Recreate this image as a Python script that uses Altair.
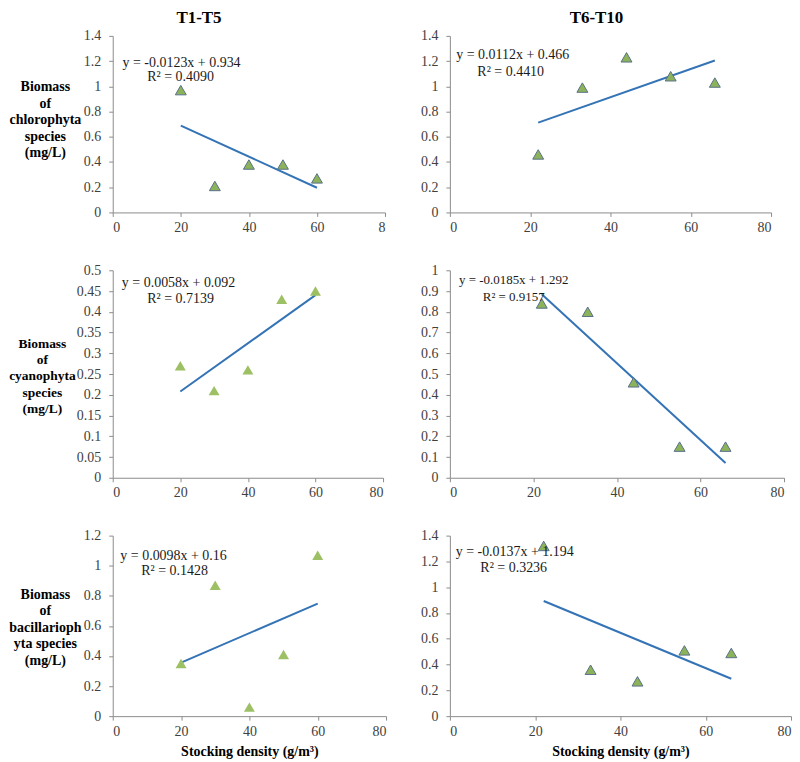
import altair as alt
import pandas as pd

# ---------------- data ----------------
x_t1 = [20, 30, 40, 50, 60]
x_t6 = [22, 33, 44, 55, 66]

chl_t1 = [0.97, 0.21, 0.38, 0.38, 0.27]
chl_t6 = [0.46, 0.99, 1.23, 1.08, 1.03]
cya_t1 = [0.27, 0.21, 0.26, 0.43, 0.45]
cya_t6 = [0.84, 0.80, 0.46, 0.15, 0.15]
bac_t1 = [0.35, 0.87, 0.06, 0.41, 1.07]
bac_t6 = [1.32, 0.36, 0.27, 0.51, 0.49]

slopes = {"chl_t1": -0.0123, "chl_t6": 0.0112, "cya_t1": 0.0058,
          "cya_t6": -0.0185, "bac_t1": 0.0098, "bac_t6": -0.0137}
intercepts = {"chl_t1": 0.934, "chl_t6": 0.466, "cya_t1": 0.092,
              "cya_t6": 1.292, "bac_t1": 0.16, "bac_t6": 1.194}
eq_lines = {
    "chl_t1": ["y = -0.0123x + 0.934", "R² = 0.4090"],
    "chl_t6": ["y = 0.0112x + 0.466", "R² = 0.4410"],
    "cya_t1": ["y = 0.0058x + 0.092", "R² = 0.7139"],
    "cya_t6": ["y = -0.0185x + 1.292", "R² = 0.9157"],
    "bac_t1": ["y = 0.0098x + 0.16", "R² = 0.1428"],
    "bac_t6": ["y = -0.0137x + 1.194", "R² = 0.3236"],
}
x_ticks = [0, 20, 40, 60, 80]
col_titles = ["T1-T5", "T6-T10"]
row_titles = [
    ["Biomass", "of", "chlorophyta", "species", "(mg/L)"],
    ["Biomass", "of", "cyanophyta", "species", "(mg/L)"],
    ["Biomass", "of", "bacillarioph", "yta  species", "(mg/L)"],
]
x_title = "Stocking density (g/m³)"

SERIF = "Liberation Serif"
LINE_BLUE = "#3473B5"
AXIS_GRAY = "#8C8C8C"
LABEL_COLOR = "#404040"


def ticks(top, step):
    n = int(round(top / step))
    return [round(i * step, 2) for i in range(n + 1)]


def axis_common():
    return dict(labelFont=SERIF, labelFontSize=14, labelColor=LABEL_COLOR,
                labelOverlap=False, domainColor=AXIS_GRAY, tickColor=AXIS_GRAY,
                tickSize=4, grid=False,
                titleFont=SERIF, titleFontSize=14, titleFontWeight="bold",
                titleColor="#000000")


def panel(key, xs, ys, ytop, ystep, yfmt, w, h, eqpos, eqsize=14,
          ytitle=None, ytitle_x=-68, ytitle_y=0, ytitle_size=14,
          xtitle=None, title=None, title_dx=0,
          outline=True, xlabel_expr=None):
    df = pd.DataFrame({"x": xs, "y": ys})
    xmin, xmax = min(xs), max(xs)
    tl = pd.DataFrame({"x": [xmin, xmax],
                       "y": [slopes[key] * xmin + intercepts[key],
                             slopes[key] * xmax + intercepts[key]]})

    xaxis_kw = axis_common()
    xaxis_kw.update(values=x_ticks, format="d", labelPadding=4)
    if xlabel_expr:
        xaxis_kw["labelExpr"] = xlabel_expr
    if xtitle:
        xaxis_kw["title"] = xtitle
        xaxis_kw["titlePadding"] = 6
    else:
        xaxis_kw["title"] = None

    yaxis_kw = axis_common()
    yaxis_kw.update(values=ticks(ytop, ystep), format=yfmt, labelPadding=8)
    if ytitle:
        yaxis_kw.update(title=ytitle, titleAngle=0, titleAlign="center",
                        titleBaseline="middle", titleX=ytitle_x, titleY=ytitle_y,
                        titleLineHeight=16.5, titleFontSize=ytitle_size)
    else:
        yaxis_kw["title"] = None

    def xenc():
        return alt.X("x:Q", scale=alt.Scale(domain=[0, 80], nice=False),
                     axis=alt.Axis(**xaxis_kw))

    def yenc():
        return alt.Y("y:Q", scale=alt.Scale(domain=[0, ytop], nice=False),
                     axis=alt.Axis(**yaxis_kw))

    line = alt.Chart(tl).mark_line(color=LINE_BLUE, strokeWidth=2).encode(x=xenc(), y=yenc())
    if outline:
        pts = alt.Chart(df).mark_point(shape="triangle-up", filled=True, size=120,
                                       fill="#8DB35A", stroke="#58708A", strokeWidth=1,
                                       opacity=1).encode(x=xenc(), y=yenc())
    else:
        pts = alt.Chart(df).mark_point(shape="triangle-up", filled=True, size=120,
                                       fill="#9CC063", opacity=1).encode(x=xenc(), y=yenc())

    layers = [line, pts]
    l1, l2 = eq_lines[key]
    (x1, y1), (x2, y2) = eqpos
    for txt, px, py in [(l1, x1, y1), (l2, x2, y2)]:
        layers.append(
            alt.Chart(pd.DataFrame({"t": [txt]})).mark_text(
                font=SERIF, fontSize=eqsize, align="center", baseline="middle", color="#1a1a1a"
            ).encode(x=alt.value(px), y=alt.value(py), text="t:N")
        )
    ch = alt.layer(*layers).properties(width=w, height=h)
    if title:
        ch = ch.properties(title=alt.TitleParams(title, font=SERIF, fontSize=17, fontWeight="bold",
                                                 color="#000000", dx=title_dx, offset=2))
    return ch


tl_p = panel("chl_t1", x_t1, chl_t1, 1.4, 0.2, ".1~f", 273, 177,
             [(69, 27), (68, 41)], ytitle=row_titles[0], ytitle_x=-68, ytitle_y=51,
             title=col_titles[0], title_dx=-50,
             xlabel_expr="datum.value == 80 ? '8' : datum.label")
tr_p = panel("chl_t6", x_t6, chl_t6, 1.4, 0.2, ".1~f", 322, 177,
             [(63, 19), (61, 36)], title=col_titles[1], title_dx=-14)

ml_p = panel("cya_t1", x_t1, cya_t1, 0.5, 0.05, ".2~f", 271, 208,
             [(66, 13), (68, 29)], ytitle=row_titles[1], ytitle_x=-71, ytitle_y=73,
             ytitle_size=13.5, outline=False)
mr_p = panel("cya_t6", x_t6, cya_t6, 1.0, 0.1, ".1~f", 335, 208,
             [(64, 10), (64, 27)], eqsize=13)

bl_p = panel("bac_t1", x_t1, bac_t1, 1.2, 0.2, ".1~f", 274, 181,
             [(61, 20), (62, 35)], ytitle=row_titles[2], ytitle_x=-68, ytitle_y=59,
             xtitle=x_title, outline=False)
br_p = panel("bac_t6", x_t6, bac_t6, 1.4, 0.2, ".1~f", 342, 181,
             [(65, 16), (64, 32)], xtitle=x_title)

chart = alt.concat(tl_p, tr_p, ml_p, mr_p, bl_p, br_p, columns=2,
                   spacing={"row": 58, "column": 64}, bounds="flush", align="each").properties(
    padding={"left": 0, "top": 0, "right": 0, "bottom": 0}
).configure(
    style={"guide-label": {"font": SERIF, "fontSize": 14, "fill": LABEL_COLOR},
           "guide-title": {"font": SERIF, "fontSize": 14, "fontWeight": "bold", "fill": "#000000"},
           "group-title": {"font": SERIF}}
).configure_view(stroke=None).configure_axis(
    labelFont=SERIF, labelFontSize=14, labelColor=LABEL_COLOR, labelOverlap=False,
    titleFont=SERIF, titleFontSize=14, titleFontWeight="bold", titleColor="#000000",
    grid=False, domainColor=AXIS_GRAY, tickColor=AXIS_GRAY, tickSize=4
)

chart.save("out.html", embed_options={"renderer": "svg", "actions": False})
